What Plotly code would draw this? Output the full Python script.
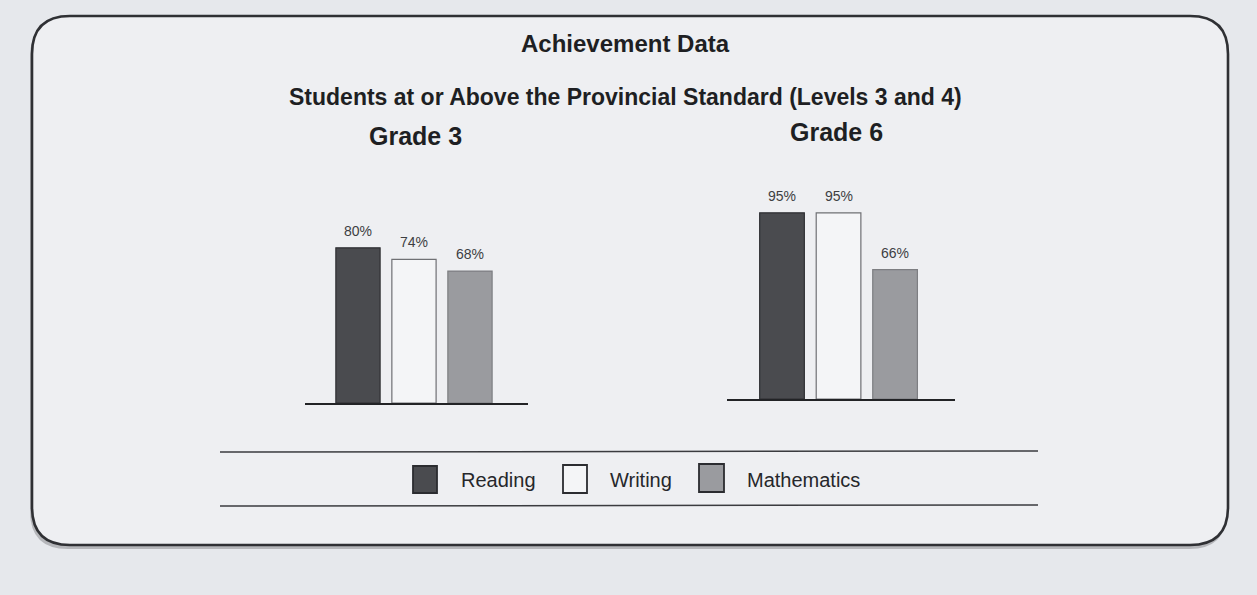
import plotly.graph_objects as go

W, H = 1257, 595

subjects = ["Reading", "Writing", "Mathematics"]
grade3_values = [80, 74, 68]
grade6_values = [95, 95, 66]
grade_titles = ["Grade 3", "Grade 6"]
main_title = "Achievement Data"
sub_title = "Students at or Above the Provincial Standard (Levels 3 and 4)"

fills = ["#4a4b4f", "#f4f5f7", "#9a9b9f"]
edges = ["#2e2f33", "#6f7074", "#7d7e82"]

FONT = "Liberation Sans, Arial, sans-serif"


def px(x):
    return x / W


def py(y):
    return 1 - y / H


fig = go.Figure()

annotations = []
for i, vals in enumerate([grade3_values, grade6_values]):
    xa = "x" if i == 0 else "x2"
    ya = "y" if i == 0 else "y2"
    for j, s in enumerate(subjects):
        fig.add_trace(go.Bar(
            x=[s], y=[vals[j]], xaxis=xa, yaxis=ya,
            marker=dict(color=fills[j], line=dict(color=edges[j], width=1.2)),
            width=0.79, cliponaxis=False, showlegend=False, name=s,
        ))
        annotations.append(dict(
            text=f"{vals[j]}%", x=s, y=vals[j], xref=xa, yref=ya,
            showarrow=False, yshift=17, xanchor="center", yanchor="middle",
            font=dict(family=FONT, size=14, color="#3d3e42"),
        ))

common_x = dict(type="category", showgrid=False, zeroline=False, showticklabels=False,
                ticks="", showline=True, linecolor="#222326", linewidth=1.8,
                categoryorder="array", categoryarray=subjects)
common_y = dict(range=[0, 100], visible=False, showgrid=False, zeroline=False)

fig.update_layout(
    width=W, height=H,
    margin=dict(l=0, r=0, t=0, b=0),
    paper_bgcolor="#e6e8ec",
    plot_bgcolor="rgba(0,0,0,0)",
    bargap=0.2,
    xaxis=dict(common_x, domain=[px(305), px(528)], range=[-0.946, 3.036], anchor="y"),
    yaxis=dict(common_y, domain=[py(403), py(209)], anchor="x"),
    xaxis2=dict(common_x, domain=[px(727), px(955)], range=[-0.973, 3.06], anchor="y2"),
    yaxis2=dict(common_y, domain=[py(399), py(203)], anchor="x2"),
)

# rounded frame
x0, y0, x1, y1, r = 32, 16, 1228, 545, 38


def rr_path(x0, y0, x1, y1, r):
    return (f"M {px(x0 + r)},{py(y0)} L {px(x1 - r)},{py(y0)} "
            f"Q {px(x1)},{py(y0)} {px(x1)},{py(y0 + r)} "
            f"L {px(x1)},{py(y1 - r)} Q {px(x1)},{py(y1)} {px(x1 - r)},{py(y1)} "
            f"L {px(x0 + r)},{py(y1)} Q {px(x0)},{py(y1)} {px(x0)},{py(y1 - r)} "
            f"L {px(x0)},{py(y0 + r)} Q {px(x0)},{py(y0)} {px(x0 + r)},{py(y0)} Z")


shapes = [
    dict(type="path", path=rr_path(x0 - 2, y0 + 3, x1 - 1, y1 + 4, r), xref="paper", yref="paper",
         fillcolor="rgba(90,90,95,0.35)", line=dict(width=0), layer="below"),
    dict(type="path", path=rr_path(x0, y0, x1, y1, r), xref="paper", yref="paper",
         fillcolor="#eeeff2", line=dict(color="#2f3034", width=2.6), layer="below"),
    dict(type="line", xref="paper", yref="paper", x0=px(220), x1=px(1038), y0=py(452), y1=py(451),
         line=dict(color="#3a3b3f", width=1.5)),
    dict(type="line", xref="paper", yref="paper", x0=px(220), x1=px(1038), y0=py(506), y1=py(505),
         line=dict(color="#3a3b3f", width=1.5)),
]

# legend (drawn)
leg_boxes = [(413, 437, 466, 493), (563, 587, 465, 493), (699, 724, 464, 492)]
leg_text_x = [459, 608, 745]
for j, s in enumerate(subjects):
    bx0, bx1, by0, by1 = leg_boxes[j]
    shapes.append(dict(type="rect", xref="paper", yref="paper",
                       x0=px(bx0), x1=px(bx1), y0=py(by1), y1=py(by0),
                       fillcolor=fills[j], line=dict(color="#2b2c30", width=1.8)))

annotations += [
    dict(text=f"<b>{main_title}</b>", x=px(625), y=py(44), xref="paper", yref="paper",
         showarrow=False, font=dict(family=FONT, size=24, color="#1e1f23"), xanchor="center", yanchor="middle"),
    dict(text=f"<b>{sub_title}</b>", x=px(625), y=py(97), xref="paper", yref="paper",
         showarrow=False, font=dict(family=FONT, size=23, color="#1e1f23"), xanchor="center", yanchor="middle"),
    dict(text=f"<b>{grade_titles[0]}</b>", x=px(415), y=py(136), xref="paper", yref="paper",
         showarrow=False, font=dict(family=FONT, size=25, color="#1e1f23"), xanchor="center", yanchor="middle"),
    dict(text=f"<b>{grade_titles[1]}</b>", x=px(836), y=py(132), xref="paper", yref="paper",
         showarrow=False, font=dict(family=FONT, size=25, color="#1e1f23"), xanchor="center", yanchor="middle"),
]
for j, s in enumerate(subjects):
    annotations.append(dict(text=s, x=px(leg_text_x[j]), y=py(480), xref="paper", yref="paper",
                            showarrow=False, font=dict(family=FONT, size=20, color="#26272b"),
                            xanchor="left", yanchor="middle"))

fig.update_layout(shapes=shapes, annotations=annotations)

fig.write_html("out.html",
               config={"displayModeBar": False},
               post_script="document.body.style.margin='0';document.body.style.overflow='hidden';")
